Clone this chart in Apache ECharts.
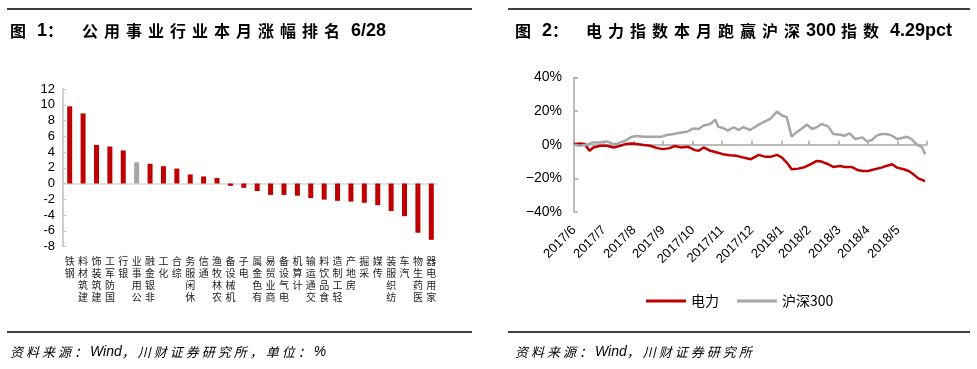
<!DOCTYPE html>
<html>
<head>
<meta charset="utf-8">
<script src="https://cdn.jsdelivr.net/npm/echarts@6/dist/echarts.min.js"></script>
<style>
html,body{margin:0;padding:0;background:#fff;}
#c{width:977px;height:369px;}
</style>
</head>
<body>
<div id="c"></div>
<script>
// ---------- data: left chart ----------
const barCategories = ['钢铁','建筑材料','建筑装饰','国防军工','银行','公用事业','非银金融','化工','综合','休闲服务','通信','农林牧渔','机械设备','电子','有色金属','商业贸易','电气设备','计算机','交通运输','食品饮料','轻工制造','房地产','采掘','传媒','纺织服装','汽车','医药生物','家用电器'];
const barValues = [9.8, 8.9, 4.9, 4.7, 4.2, 2.7, 2.5, 2.2, 1.9, 1.15, 0.9, 0.7, -0.3, -0.55, -0.95, -1.45, -1.45, -1.55, -1.85, -2.05, -2.2, -2.3, -2.45, -2.75, -3.5, -4.15, -6.25, -7.15];
const highlightCategory = '公用事业';

// ---------- data: right chart ----------
const powerDates = ['2017-06-30','2017-07-06','2017-07-11','2017-07-16','2017-07-20','2017-07-27','2017-08-03','2017-08-10','2017-08-17','2017-08-22','2017-08-29','2017-09-03','2017-09-10','2017-09-17','2017-09-24','2017-09-30','2017-10-07','2017-10-12','2017-10-19','2017-10-26','2017-11-02','2017-11-06','2017-11-11','2017-11-18','2017-11-25','2017-12-01','2017-12-08','2017-12-15','2017-12-22','2017-12-30','2018-01-07','2018-01-14','2018-01-19','2018-01-26','2018-01-31','2018-02-05','2018-02-10','2018-02-17','2018-02-24','2018-03-03','2018-03-08','2018-03-13','2018-03-20','2018-03-25','2018-04-01','2018-04-06','2018-04-13','2018-04-20','2018-04-25','2018-04-30','2018-05-07','2018-05-14','2018-05-19','2018-05-25','2018-05-30','2018-06-06','2018-06-11','2018-06-16','2018-06-21','2018-06-28'];
const powerValues = [0.4,0.8,0.4,-3.6,-1.6,-0.6,-0.6,-1.6,-0.6,0.4,0.8,0.4,-0.2,-0.6,-2,-2.6,-2,-0.8,-1.6,-1.2,-3.2,-3.6,-1.6,-3.6,-4.6,-5.6,-6.2,-6.6,-7.6,-8.6,-6,-7.2,-7.2,-6,-7.6,-10.6,-14.6,-14.2,-13.2,-11.2,-9.6,-10,-11.6,-13.2,-12.6,-13.2,-13.2,-15.2,-15.6,-15.6,-14.6,-13.6,-12.6,-11.6,-13.6,-14.6,-15.6,-17.6,-20,-21.6];
const hs300Dates = ['2017-06-30','2017-07-06','2017-07-13','2017-07-20','2017-07-27','2017-08-03','2017-08-08','2017-08-13','2017-08-17','2017-08-22','2017-08-29','2017-09-03','2017-09-10','2017-09-20','2017-09-29','2017-10-04','2017-10-11','2017-10-18','2017-10-25','2017-10-31','2017-11-06','2017-11-11','2017-11-16','2017-11-19','2017-11-23','2017-11-26','2017-12-01','2017-12-06','2017-12-12','2017-12-17','2017-12-22','2017-12-29','2018-01-07','2018-01-14','2018-01-19','2018-01-26','2018-01-31','2018-02-05','2018-02-10','2018-02-15','2018-02-20','2018-02-26','2018-03-03','2018-03-08','2018-03-13','2018-03-20','2018-03-25','2018-04-01','2018-04-06','2018-04-11','2018-04-17','2018-04-24','2018-04-29','2018-05-04','2018-05-09','2018-05-14','2018-05-19','2018-05-25','2018-05-30','2018-06-04','2018-06-09','2018-06-14','2018-06-19','2018-06-25','2018-06-28'];
const hs300Values = [0,-0.6,0,1.4,1.4,2,0.8,0.4,1.4,2.4,4.8,5.2,4.8,4.8,4.8,5.8,6.4,7.2,7.8,9.6,9.4,11.4,12,12.8,15,10.8,10,8.4,10.4,8.8,10.4,8.8,12,14,15.4,19.8,17.4,16.4,4.8,7.4,9.4,12,9.4,10.4,12.4,10.8,6.4,6,5.4,6.8,3.4,4.4,2,2.8,5.4,6.4,6.4,5.4,3.4,4,4.8,3.4,0.4,-1.6,-5.6];
const monthTicks = ['2017-06-30','2017-07-31','2017-08-31','2017-09-30','2017-10-31','2017-11-30','2017-12-31','2018-01-31','2018-02-28','2018-03-31','2018-04-30','2018-05-31','2018-06-30'];
const monthLabels = ['2017/6','2017/7','2017/8','2017/9','2017/10','2017/11','2017/12','2018/1','2018/2','2018/3','2018/4','2018/5'];
const seriesNames = ['电力','沪深300'];

// ---------- texts ----------
const titleLeftPrefix = '图 1：';
const titleLeftMain = '公用事业行业本月涨幅排名 6/28';
const titleRightPrefix = '图 2：';
const titleRightMain = '电力指数本月跑赢沪深300 指数 4.29pct';
const sourceLeft = '资料来源：Wind，川财证券研究所，单位：%';
const sourceRight = '资料来源：Wind，川财证券研究所';

function toTs(s){ const p = s.split('-').map(Number); return Date.UTC(p[0], p[1]-1, p[2]); }
const CJK = /[\u3000-\u303f\u4e00-\u9fff\uff00-\uffef]/;
function toRich(str){
  let out = '', run = '';
  for (const ch of str){
    if (CJK.test(ch)){ if (run){ out += '{l|' + run + '}'; run=''; } out += '{c|' + ch + '}'; }
    else run += ch;
  }
  if (run) out += '{l|' + run + '}';
  return out;
}
const LATIN = 'Arial, "Liberation Sans", sans-serif';
const CJKF = '"Noto Sans CJK SC", sans-serif';
const titleRich = {
  c: {fontFamily: CJKF, fontSize: 16, fontWeight: 'bold', width: 22, align: 'left', color: '#000'},
  l: {fontFamily: LATIN, fontSize: 18, fontWeight: 'bold', color: '#000'}
};
const srcRich = {
  c: {fontFamily: CJKF, fontSize: 13, fontStyle: 'italic', width: 16, align: 'left', color: '#000'},
  l: {fontFamily: LATIN, fontSize: 14, fontStyle: 'italic', color: '#000'}
};
function txt(x, y, s, rich){
  return {type:'text', x:x, y:y, style:{text: toRich(s), rich: rich, verticalAlign:'middle', align:'left'}};
}
function rule(x1, x2, y){
  return {type:'line', shape:{x1:x1, y1:y, x2:x2, y2:y}, style:{stroke:'#000', lineWidth:1.5}};
}

const tickTs = monthTicks.map(toTs);
const startTs = tickTs[0];
const endTs = tickTs[tickTs.length-1];
const labelTs = tickTs.slice(0, monthLabels.length);

const chart = echarts.init(document.getElementById('c'), null, {renderer:'canvas'});
chart.setOption({
  animation: false,
  backgroundColor: '#fff',
  textStyle: {fontFamily: LATIN},
  graphic: [
    rule(7, 472, 9), rule(508, 970, 9),
    rule(7, 472, 332), rule(508, 970, 332),
    txt(10, 31, titleLeftPrefix, titleRich),
    txt(82, 31, titleLeftMain, titleRich),
    txt(515, 31, titleRightPrefix, titleRich),
    txt(586, 31, titleRightMain, titleRich),
    txt(10, 352, sourceLeft, srcRich),
    txt(515, 352, sourceRight, srcRich)
  ],
  legend: {
    data: seriesNames,
    left: 641, top: 289,
    icon: 'rect', itemWidth: 40, itemHeight: 3, itemGap: 18,
    textStyle: {fontSize: 14, color: '#000', fontFamily: '"Noto Sans CJK SC", Arial, sans-serif'}
  },
  grid: [
    {left: 63, top: 89, width: 375, height: 157.5},
    {left: 574, top: 77.5, width: 353, height: 134.5}
  ],
  xAxis: [
    {
      gridIndex: 0, type: 'category', data: barCategories, position: 'bottom',
      axisLine: {show: false, onZero: false}, axisTick: {show: false},
      axisLabel: {
        interval: 0, margin: 9, fontSize: 10, lineHeight: 12, color: '#222',
        fontFamily: CJKF, verticalAlign: 'top',
        formatter: function(v){ return v.split('').reverse().join('\n'); }
      }
    },
    {
      gridIndex: 0, type: 'category', data: barCategories, position: 'bottom',
      axisLine: {show: true, onZero: true, lineStyle: {color: '#D9D9D9', width: 1.5}},
      axisTick: {show: false}, axisLabel: {show: false}
    },
    {
      gridIndex: 1, type: 'value', min: startTs, max: endTs, position: 'bottom',
      axisLine: {show: false, onZero: false}, axisTick: {show: false}, splitLine: {show: false},
      axisLabel: {
        customValues: labelTs, rotate: 45, margin: 16, fontSize: 13, color: '#000', fontFamily: LATIN,
        formatter: function(v){ const i = labelTs.indexOf(v); return i >= 0 ? monthLabels[i] : ''; }
      }
    },
    {
      gridIndex: 1, type: 'value', min: startTs, max: endTs, position: 'bottom',
      axisLine: {show: true, onZero: true, lineStyle: {color: '#A6A6A6', width: 1.5}},
      axisTick: {show: true, inside: true, length: 4, customValues: tickTs, lineStyle: {color: '#A6A6A6', width: 1.5}},
      axisLabel: {show: false}, splitLine: {show: false}
    }
  ],
  yAxis: [
    {
      gridIndex: 0, type: 'value', min: -8, max: 12, interval: 2,
      axisLine: {show: true, onZero: false, lineStyle: {color: '#BFBFBF', width: 1.5}},
      axisTick: {show: true, inside: true, length: 3, lineStyle: {color: '#BFBFBF'}},
      axisLabel: {fontSize: 13, color: '#000', margin: 8, fontFamily: LATIN},
      splitLine: {show: false}
    },
    {
      gridIndex: 1, type: 'value', min: -40, max: 40, interval: 20,
      axisLine: {show: true, onZero: false, lineStyle: {color: '#A6A6A6', width: 1.5}},
      axisTick: {show: true, inside: true, length: 4, lineStyle: {color: '#A6A6A6', width: 1.5}},
      axisLabel: {fontSize: 14, color: '#000', margin: 12, fontFamily: LATIN,
        formatter: function(v){ return (v < 0 ? '\u2212' + (-v) : v) + '%'; }},
      splitLine: {show: false}
    }
  ],
  series: [
    {
      type: 'bar', xAxisIndex: 0, yAxisIndex: 0, barWidth: 5,
      data: barValues.map(function(v, i){
        return {value: v, itemStyle: {color: barCategories[i] === highlightCategory ? '#A6A6A6' : '#C00000'}};
      })
    },
    {
      name: seriesNames[0], type: 'line', xAxisIndex: 2, yAxisIndex: 1, showSymbol: false,
      color: '#C00000', lineStyle: {width: 2.5, color: '#C00000'},
      data: powerDates.map(function(d, i){ return [toTs(d), powerValues[i]]; })
    },
    {
      name: seriesNames[1], type: 'line', xAxisIndex: 2, yAxisIndex: 1, showSymbol: false,
      color: '#A6A6A6', lineStyle: {width: 2.5, color: '#A6A6A6'},
      data: hs300Dates.map(function(d, i){ return [toTs(d), hs300Values[i]]; })
    }
  ]
});
</script>
</body>
</html>
